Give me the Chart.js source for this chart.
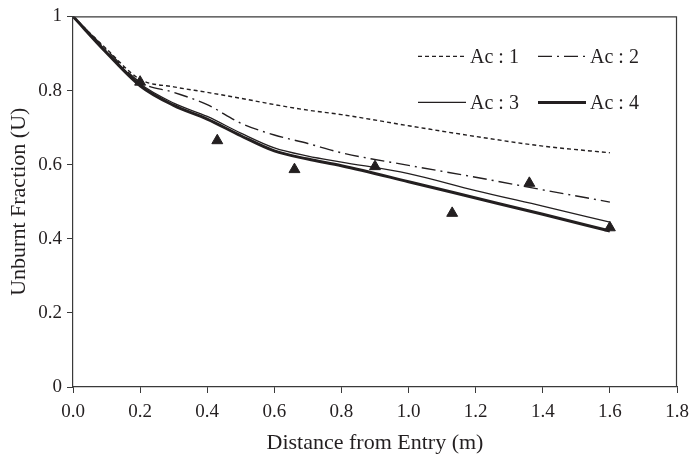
<!DOCTYPE html>
<html>
<head>
<meta charset="utf-8">
<script src="https://cdn.jsdelivr.net/npm/chart.js@4.4.1/dist/chart.umd.min.js"></script>
<style>
  html, body { margin: 0; padding: 0; background: #fff; }
  #wrap { width: 691px; height: 456px; }
</style>
</head>
<body>
<div id="wrap"><canvas id="myLineChart" width="691" height="456"></canvas></div>
<script>
var ink = '#231f20';
var serif = "'Liberation Serif', 'DejaVu Serif', serif";

// model curves, unburnt fraction vs distance
var distance = [0, 0.1, 0.2, 0.3, 0.4, 0.5, 0.6, 0.7, 0.8, 1.0, 1.2, 1.4, 1.6];
var ac1 = [1, 0.912, 0.83, 0.81, 0.795, 0.779, 0.762, 0.747, 0.735, 0.705, 0.676, 0.65, 0.632];
var ac2 = [1, 0.91, 0.823, 0.795, 0.762, 0.712, 0.68, 0.657, 0.632, 0.598, 0.566, 0.532, 0.499];
var ac3 = [1, 0.905, 0.818, 0.766, 0.73, 0.685, 0.645, 0.623, 0.607, 0.576, 0.53, 0.488, 0.445];
var ac4 = [1, 0.902, 0.813, 0.76, 0.723, 0.678, 0.637, 0.615, 0.597, 0.554, 0.51, 0.466, 0.421];

// measured points (triangles)
var measX = [0.2, 0.43, 0.66, 0.9, 1.13, 1.36, 1.6];
var measY = [0.823, 0.665, 0.587, 0.595, 0.469, 0.55, 0.43];

var xTickLabels = ['0.0', '0.2', '0.4', '0.6', '0.8', '1.0', '1.2', '1.4', '1.6', '1.8'];
var yTickLabels = ['0', '0.2', '0.4', '0.6', '0.8', '1'];
var seriesNames = ['Ac : 1', 'Ac : 2', 'Ac : 3', 'Ac : 4'];

function pts(xs, ys) {
  return xs.map(function (x, i) { return { x: x, y: ys[i] }; });
}

function curve(name, ys, width, dash) {
  return {
    label: name,
    data: pts(distance, ys),
    borderColor: ink,
    borderWidth: width,
    borderDash: dash,
    pointRadius: 0,
    fill: false,
    cubicInterpolationMode: 'monotone',
    showLine: true
  };
}

// box around plot + legend inside plot area
var frameAndLegend = {
  id: 'frameAndLegend',
  afterDraw: function (chart) {
    var c = chart.ctx, a = chart.chartArea;
    c.save();
    c.strokeStyle = '#3a3a3a';
    c.lineWidth = 1.2;
    c.beginPath();
    c.moveTo(a.left, a.top + 0.5);
    c.lineTo(a.right - 0.5, a.top + 0.5);
    c.lineTo(a.right - 0.5, a.bottom);
    c.stroke();

    var cols = [a.left + 345, a.left + 465];
    var rows = [a.top + 40, a.top + 86];
    c.font = '20px ' + serif;
    c.textBaseline = 'middle';
    c.fillStyle = ink;
    for (var i = 0; i < 4; i++) {
      var ds = chart.data.datasets[i];
      var x = cols[i % 2], y = rows[Math.floor(i / 2)];
      c.strokeStyle = ds.borderColor;
      c.lineWidth = ds.borderWidth;
      c.setLineDash(ds.borderDash || []);
      c.beginPath();
      c.moveTo(x, y);
      c.lineTo(x + 48, y);
      c.stroke();
      c.setLineDash([]);
      c.fillText(ds.label, x + 52, y + 1);
    }
    c.restore();
  }
};

var ctx = document.getElementById('myLineChart');
var myChart = new Chart(ctx, {
  type: 'scatter',
  data: {
    datasets: [
      curve(seriesNames[0], ac1, 1.4, [4, 3]),
      curve(seriesNames[1], ac2, 1.4, [14, 5, 2, 5]),
      curve(seriesNames[2], ac3, 1.3, []),
      curve(seriesNames[3], ac4, 3, []),
      {
        label: 'Measured',
        data: pts(measX, measY),
        pointStyle: 'triangle',
        pointRadius: 6.3,
        pointBackgroundColor: ink,
        pointBorderColor: ink,
        pointBorderWidth: 1,
        showLine: false
      }
    ]
  },
  options: {
    responsive: false,
    animation: false,
    layout: { padding: { left: 6, right: 14, top: 14, bottom: 0 } },
    plugins: {
      legend: { display: false },
      tooltip: { enabled: false }
    },
    scales: {
      x: {
        type: 'linear',
        min: 0,
        max: 1.8,
        afterFit: function (s) {
          s.height = 69;
          s.paddingLeft = 0;
          s.paddingRight = 0;
        },
        ticks: {
          stepSize: 0.2,
          color: ink,
          padding: 8,
          font: { family: serif, size: 19 },
          maxRotation: 0,
          callback: function (v, i) { return xTickLabels[i]; }
        },
        grid: { display: true, drawOnChartArea: false, drawTicks: true, tickLength: 6, color: '#3a3a3a' },
        border: { display: true, color: '#3a3a3a', width: 1.2 },
        title: {
          display: true,
          text: 'Distance from Entry (m)',
          color: ink,
          font: { family: serif, size: 22 },
          padding: { top: 0, bottom: 0 }
        }
      },
      y: {
        min: 0,
        max: 1,
        afterFit: function (s) { s.width = 67; },
        ticks: {
          stepSize: 0.2,
          color: ink,
          padding: 5,
          font: { family: serif, size: 19 },
          callback: function (v, i) { return yTickLabels[i]; }
        },
        grid: { display: true, drawOnChartArea: false, drawTicks: true, tickLength: 6, color: '#3a3a3a' },
        border: { display: true, color: '#3a3a3a', width: 1.2 },
        title: {
          display: true,
          text: 'Unburnt Fraction (U)',
          color: ink,
          font: { family: serif, size: 22 },
          padding: { top: 0, bottom: 0 }
        }
      }
    }
  },
  plugins: [frameAndLegend]
});
</script>
</body>
</html>
